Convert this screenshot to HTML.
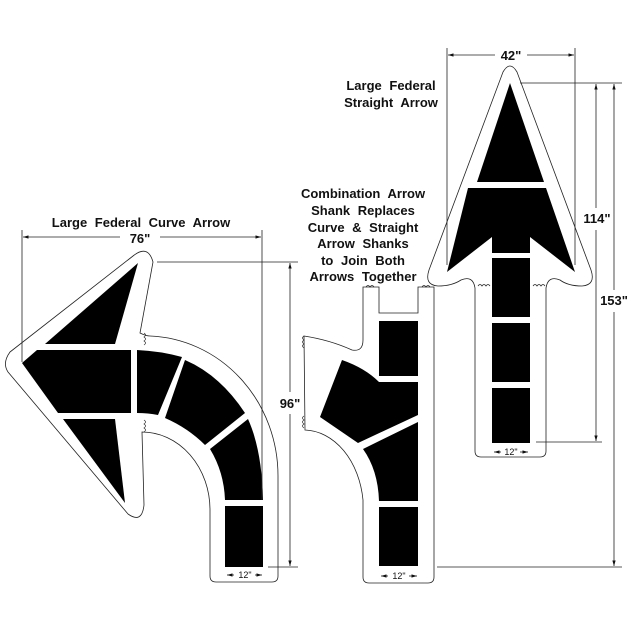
<!DOCTYPE html>
<html><head><style>
html,body{margin:0;padding:0;background:#fff;}
svg{display:block;}
text{font-family:"Liberation Sans",Arial,sans-serif;font-weight:bold;fill:#111;}
</style></head><body>
<svg width="632" height="632" viewBox="0 0 632 632" xmlns="http://www.w3.org/2000/svg">
<defs>
<marker id="ar" viewBox="0 0 10 10" refX="10" refY="5" markerWidth="7" markerHeight="7" orient="auto-start-reverse"><path d="M0,2 L10,5 L0,8 z" fill="#111"/></marker>
</defs>
<g fill="none" stroke="#222" stroke-width="0.8">
<path d="M10,352 L133,256 Q148,244 153,262 L140,333 Q146,336 150,336 A133,140 0 0 1 278,476 L278,576 Q278,582 272,582 L216,582 Q210,582 210,576 L210,510 A68,78 0 0 0 142,432 L144,505 Q142,524 128,514 L8,372 Q2,363 10,352 Z" fill="#fff"/>
<path d="M363,287 L379,287 L379,313 L418,313 L418,287 L434,287 L434,577 Q434,583 428,583 L369,583 Q363,583 363,577 L363,500 A60,80 0 0 0 305,430 L304,336 Q330,340 352,350 Q363,352 363,340 Z" fill="#fff"/>
<path d="M503,72 Q510,60 517,72 L591,270 Q596,285 582,286 Q568,286 560,280 Q548,275 546,288 L546,451 Q546,457 540,457 L481,457 Q475,457 475,451 L475,288 Q473,275 461,280 Q452,286 438,286 Q424,285 429,270 Z" fill="#fff"/>
</g>
<g fill="#000">
<polygon points="138,263 45,344 115,344"/>
<polygon points="22,363 37,350 131,350 131,413 58,413"/>
<polygon points="63,419 115,419 125,503"/>
<path d="M137,350 Q160,351 182,357 L158,415 Q148,413 137,413 Z"/>
<path d="M185,360 Q220,375 245,413 L205,445 Q188,428 165,418 Z"/>
<path d="M248,419 Q262,450 263,500 L225,500 Q224,472 210,449 Z"/>
<rect x="225" y="506" width="38" height="61"/>
<rect x="379" y="321" width="39" height="55"/>
<path d="M342,360 Q365,368 379,382 L418,382 L418,415 L358,443 L320,417 Z"/>
<path d="M363,449 L418,422 L418,501 L379,501 Q378,470 363,449 Z"/>
<rect x="379" y="507" width="39" height="59"/>
<polygon points="510,83 477,182 544,182"/>
<polygon points="468,188 546,188 575,272 530,237 530,253 492,253 492,237 447,272"/>
<rect x="492" y="258" width="38" height="59"/>
<rect x="492" y="323" width="38" height="59"/>
<rect x="492" y="388" width="38" height="55"/>
</g>
<g fill="none" stroke="#222" stroke-width="0.7">
<path d="M144,333 q3,2 0,4 q3,2 0,4 q3,2 0,4"/>
<path d="M144,420 q3,2 0,4 q3,2 0,4 q3,2 0,4"/>
<path d="M304,336 q-3,2 0,4 q-3,2 0,4 q-3,2 0,4"/>
<path d="M304,416 q-3,2 0,4 q-3,2 0,4 q-3,2 0,4"/>
<path d="M366,287 q2,-3 4,0 q2,-3 4,0"/>
<path d="M422,287 q2,-3 4,0 q2,-3 4,0"/>
<path d="M478,286 q2,-3 4,0 q2,-3 4,0 q2,-3 4,0"/>
<path d="M533,286 q2,-3 4,0 q2,-3 4,0 q2,-3 4,0"/>
</g>
<g stroke="#222" stroke-width="0.8" fill="none">
<line x1="22" y1="230" x2="22" y2="362"/>
<line x1="262" y1="230" x2="262" y2="500"/>
<line x1="23" y1="237" x2="120" y2="237" marker-start="url(#ar)"/>
<line x1="160" y1="237" x2="261" y2="237" marker-end="url(#ar)"/>
<line x1="157" y1="262" x2="298" y2="262"/>
<line x1="268" y1="567" x2="298" y2="567"/>
<line x1="290" y1="263" x2="290" y2="392" marker-start="url(#ar)"/>
<line x1="290" y1="414" x2="290" y2="566" marker-end="url(#ar)"/>
<line x1="227" y1="575" x2="234" y2="575" marker-start="url(#ar)"/>
<line x1="255" y1="575" x2="262" y2="575" marker-end="url(#ar)"/>
<line x1="381" y1="576" x2="388" y2="576" marker-start="url(#ar)"/>
<line x1="409" y1="576" x2="417" y2="576" marker-end="url(#ar)"/>
<line x1="494" y1="452" x2="501" y2="452" marker-start="url(#ar)"/>
<line x1="520" y1="452" x2="528" y2="452" marker-end="url(#ar)"/>
<line x1="447" y1="48" x2="447" y2="265"/>
<line x1="575" y1="48" x2="575" y2="265"/>
<line x1="448" y1="55" x2="495" y2="55" marker-start="url(#ar)"/>
<line x1="527" y1="55" x2="574" y2="55" marker-end="url(#ar)"/>
<line x1="520" y1="83" x2="622" y2="83"/>
<line x1="536" y1="442" x2="602" y2="442"/>
<line x1="437" y1="567" x2="622" y2="567"/>
<line x1="596" y1="84" x2="596" y2="208" marker-start="url(#ar)"/>
<line x1="596" y1="230" x2="596" y2="441" marker-end="url(#ar)"/>
<line x1="614" y1="84" x2="614" y2="290" marker-start="url(#ar)"/>
<line x1="614" y1="312" x2="614" y2="566" marker-end="url(#ar)"/>
</g>
<g font-size="13" text-anchor="middle" word-spacing="4">
<text x="141" y="227">Large Federal Curve Arrow</text>
<text x="140" y="243">76"</text>
<text x="290" y="408">96"</text>
<text x="511" y="60">42"</text>
<text x="597" y="223">114"</text>
<text x="614" y="305">153"</text>
<text x="391" y="90">Large Federal</text>
<text x="391" y="107">Straight Arrow</text>
<text x="363" y="198">Combination Arrow</text>
<text x="363" y="215">Shank Replaces</text>
<text x="363" y="232">Curve &amp; Straight</text>
<text x="363" y="248">Arrow Shanks</text>
<text x="363" y="265">to Join Both</text>
<text x="363" y="281">Arrows Together</text>
</g>
<g font-size="9" text-anchor="middle">
<text x="245" y="578" style="font-weight:normal">12"</text>
<text x="399" y="579" style="font-weight:normal">12"</text>
<text x="511" y="455" style="font-weight:normal">12"</text>
</g>
</svg>
</body></html>
